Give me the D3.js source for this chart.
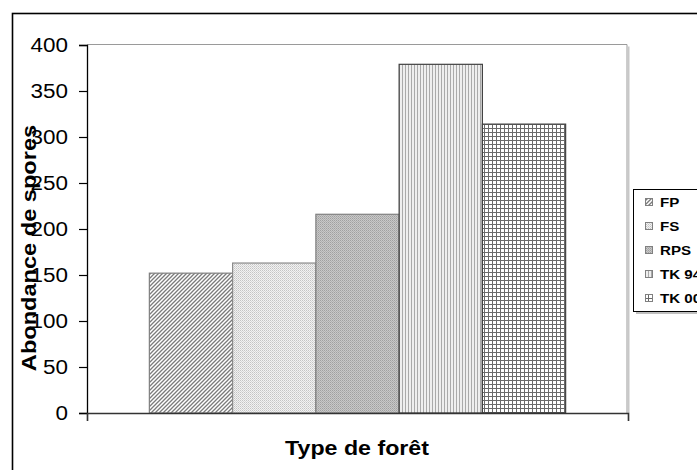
<!DOCTYPE html>
<html><head><meta charset="utf-8">
<script src="https://cdn.jsdelivr.net/npm/d3@7"></script>
<style>body{margin:0;background:#fff}svg{display:block}text{font-family:"Liberation Sans",Arial,sans-serif}</style>
</head><body><svg id="c" width="697" height="470"></svg>
<script>
const categories = ["FP","FS","RPS","TK 94","TK 00"];
const values = [152, 163, 216, 379, 314];
const yTicks = [0,50,100,150,200,250,300,350,400];
const yTitle = "Abondance de spores";
const xTitle = "Type de forêt";

const svg = d3.select("#c");
const defs = svg.append("defs");
function pat(id,w,h,build){const p=defs.append("pattern").attr("id",id).attr("patternUnits","userSpaceOnUse").attr("width",w).attr("height",h);build(p);}
pat("pFP",4,4,p=>{p.append("rect").attr("width",4).attr("height",4).attr("fill","#fff");
  p.append("path").attr("d","M-1,5 L5,-1 M-1,1 L1,-1 M3,5 L5,3").attr("stroke","#7a7a7a").attr("stroke-width",1.3);});
pat("pFS",2,2,p=>{p.append("rect").attr("width",2).attr("height",2).attr("fill","#f2f2f2");
  p.append("rect").attr("width",1).attr("height",1).attr("fill","#c4c4c4");
  p.append("rect").attr("x",1).attr("y",1).attr("width",1).attr("height",1).attr("fill","#d6d6d6");});
pat("pRPS",2,2,p=>{p.append("rect").attr("width",2).attr("height",2).attr("fill","#c8c8c8");
  p.append("rect").attr("width",1).attr("height",1).attr("fill","#a0a0a0");
  p.append("rect").attr("x",1).attr("y",1).attr("width",1).attr("height",1).attr("fill","#b0b0b0");});
pat("pTK94",3,3,p=>{p.append("rect").attr("width",3).attr("height",3).attr("fill","#eeeeee");
  p.append("rect").attr("width",1).attr("height",3).attr("fill","#a9a9a9");});
pat("pTK00",4,4,p=>{p.append("rect").attr("width",4).attr("height",4).attr("fill","#fff");
  p.append("rect").attr("width",4).attr("height",1).attr("fill","#6a6a6a");
  p.append("rect").attr("width",1).attr("height",4).attr("fill","#6a6a6a");});
const fills = ["url(#pFP)","url(#pFS)","url(#pRPS)","url(#pTK94)","url(#pTK00)"];
const strokes = ["#7f7f7f","#8a8a8a","#7f7f7f","#404040","#404040"];

// outer frame
svg.append("rect").attr("x",12.5).attr("y",13.5).attr("width",720).attr("height",480).attr("fill","none").attr("stroke","#000").attr("stroke-width",1.6);

const L=87, R=627, T=44.5, B=413;
const x = d3.scaleBand().domain(categories).range([L+1,R]).paddingInner(0).paddingOuter(0.737);
const y = d3.scaleLinear().domain([0,400]).range([B,45]);

// plot area border (gray) with shadow
svg.append("path").attr("d",`M${L},${T} H${R} V${B}`).attr("fill","none").attr("stroke","#9a9a9a").attr("stroke-width",1);
svg.append("path").attr("d",`M${R+1.5},${T+2} V${B}`).attr("fill","none").attr("stroke","#c8c8c8").attr("stroke-width",2);

// bars
svg.append("g").selectAll("rect").data(categories).join("rect")
  .attr("x",d=>x(d)).attr("width",x.bandwidth())
  .attr("y",(d,i)=>y(values[i])).attr("height",(d,i)=>B-y(values[i]))
  .attr("fill",(d,i)=>fills[i]).attr("stroke",(d,i)=>strokes[i]).attr("stroke-width",1.2);

// y axis
const ya = svg.append("g").attr("transform",`translate(${L},0)`).call(d3.axisLeft(y).tickValues(yTicks).tickSize(8).tickFormat(d3.format("d")));
ya.select(".domain").attr("stroke","#000").attr("stroke-width",1.3);
ya.selectAll(".tick line").attr("stroke","#000").attr("stroke-width",1.2);
ya.selectAll(".tick text").attr("x",0).attr("dy",null).attr("dominant-baseline","central")
  .attr("font-size",19.5).attr("fill","#000").attr("text-anchor","end")
  .attr("transform","translate(-19,0) scale(1.15,1)");

// x axis
const xl = d3.scaleLinear().domain([0,1]).range([L,R+1]);
const xa = svg.append("g").attr("transform",`translate(0,${B})`).call(d3.axisBottom(xl).tickValues([0,1]).tickSize(8).tickFormat(""));
xa.select(".domain").attr("stroke","#333").attr("stroke-width",1.5);
xa.selectAll(".tick line").attr("stroke","#333").attr("stroke-width",1.2);

// titles
svg.append("text").attr("transform",`translate(357,455) scale(1.19,1)`).attr("text-anchor","middle")
  .attr("font-size",19.5).attr("font-weight","bold").text(xTitle);
svg.append("text").attr("transform",`translate(36,248) rotate(-90) scale(1.21,1)`).attr("text-anchor","middle")
  .attr("font-size",19.5).attr("font-weight","bold").text(yTitle);

// legend
const lg = svg.append("g");
lg.append("rect").attr("x",633.5).attr("y",189.5).attr("width",100).attr("height",122).attr("fill","#fff").attr("stroke","#000").attr("stroke-width",1);
lg.append("path").attr("d","M636,313 H700").attr("stroke","#aaa").attr("stroke-width",1.5);
const ly = d3.scalePoint().domain(categories).range([202,298]);
const items = lg.selectAll("g.it").data(categories).join("g").attr("class","it").attr("transform",d=>`translate(0,${ly(d)})`);
items.append("rect").attr("x",645.5).attr("y",-3.5).attr("width",7).attr("height",7).attr("fill",(d,i)=>fills[i]).attr("stroke","#808080").attr("stroke-width",1);
items.append("text").attr("transform","translate(660,0) scale(1.12,1)").attr("dominant-baseline","central")
  .attr("font-size",13.5).attr("font-weight","bold").text(d=>d);
</script></body></html>
